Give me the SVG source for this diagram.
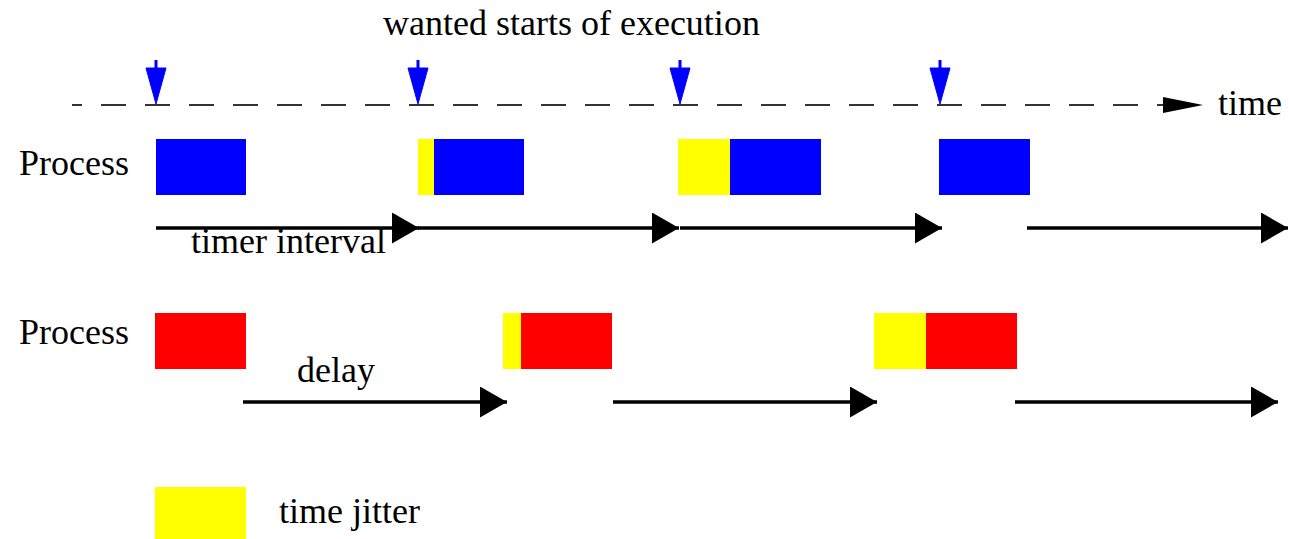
<svg xmlns="http://www.w3.org/2000/svg" width="1289" height="539" viewBox="0 0 1289 539">
  <style>
    text { font-family: "Liberation Serif", "Times New Roman", serif; font-size: 36px; fill: #000; }
    .blue { fill: #0000ff; }
    .red { fill: #ff0000; }
    .yellow { fill: #ffff00; }
    .span { stroke: #000; stroke-width: 3.5; fill: none; marker-end: url(#head); }
    .axis { stroke: #333; stroke-width: 2; fill: none; stroke-dasharray: 25 19; stroke-dashoffset: 15; }
    .tick { fill: #0000ff; stroke: #0000ff; stroke-width: 1; }
  </style>
  <defs>
    <marker id="head" markerUnits="userSpaceOnUse" markerWidth="28" markerHeight="32" refX="27" refY="15.5" orient="auto">
      <path d="M0,0 L27,15.5 L0,31 z" fill="#000"/>
    </marker>
  </defs>

  <rect width="1289" height="539" fill="#fff"/>

  <!-- time axis -->
  <g id="axis">
    <text x="383" y="35">wanted starts of execution</text>
    <line class="axis" x1="72" y1="105" x2="1163" y2="105"/>
    <path d="M1163,97 L1203,105 L1163,113 z" fill="#000"/>
    <text x="1218" y="115">time</text>
  </g>

  <!-- wanted start markers -->
  <g id="starts">
    <g id="start1"><line x1="156" y1="60" x2="156" y2="70" stroke="#0000ff" stroke-width="3"/><path class="tick" d="M146,68 L166,68 L156,104 z"/></g>
    <g id="start2"><line x1="418" y1="60" x2="418" y2="70" stroke="#0000ff" stroke-width="3"/><path class="tick" d="M408,68 L428,68 L418,104 z"/></g>
    <g id="start3"><line x1="680" y1="60" x2="680" y2="70" stroke="#0000ff" stroke-width="3"/><path class="tick" d="M670,68 L690,68 L680,104 z"/></g>
    <g id="start4"><line x1="940" y1="60" x2="940" y2="70" stroke="#0000ff" stroke-width="3"/><path class="tick" d="M930,68 L950,68 L940,104 z"/></g>
  </g>

  <!-- timer-driven process -->
  <g id="timer-process">
    <text x="19" y="175">Process</text>
    <g id="t-run1"><rect class="blue" x="156" y="139" width="90" height="56"/></g>
    <g id="t-run2"><rect class="yellow" x="418" y="139" width="16" height="56"/><rect class="blue" x="434" y="139" width="90" height="56"/></g>
    <g id="t-run3"><rect class="yellow" x="678" y="139" width="52" height="56"/><rect class="blue" x="730" y="139" width="91" height="56"/></g>
    <g id="t-run4"><rect class="blue" x="939" y="139" width="91" height="56"/></g>
  </g>

  <!-- delay-driven process -->
  <g id="delay-process">
    <text x="19" y="344">Process</text>
    <g id="d-run1"><rect class="red" x="155" y="313" width="91" height="56"/></g>
    <g id="d-run2"><rect class="yellow" x="503" y="313" width="18" height="56"/><rect class="red" x="521" y="313" width="91" height="56"/></g>
    <g id="d-run3"><rect class="yellow" x="874" y="313" width="52" height="56"/><rect class="red" x="926" y="313" width="91" height="56"/></g>
  </g>

  <!-- interval connectors -->
  <g id="connectors">
    <line class="span" x1="156" y1="228" x2="419" y2="228"/>
    <line class="span" x1="418" y1="228" x2="679" y2="228"/>
    <line class="span" x1="680" y1="228" x2="942" y2="228"/>
    <line class="span" x1="1027" y1="228" x2="1288" y2="228"/>
    <line class="span" x1="243" y1="402" x2="507" y2="402"/>
    <line class="span" x1="613" y1="402" x2="877" y2="402"/>
    <line class="span" x1="1015" y1="402" x2="1278" y2="402"/>
  </g>

  <g id="labels">
    <text x="191" y="253">timer interval</text>
    <text x="297" y="382">delay</text>
  </g>

  <!-- legend -->
  <g id="legend">
    <rect class="yellow" x="155" y="487" width="91" height="56"/>
    <text x="279" y="523">time jitter</text>
  </g>
</svg>
